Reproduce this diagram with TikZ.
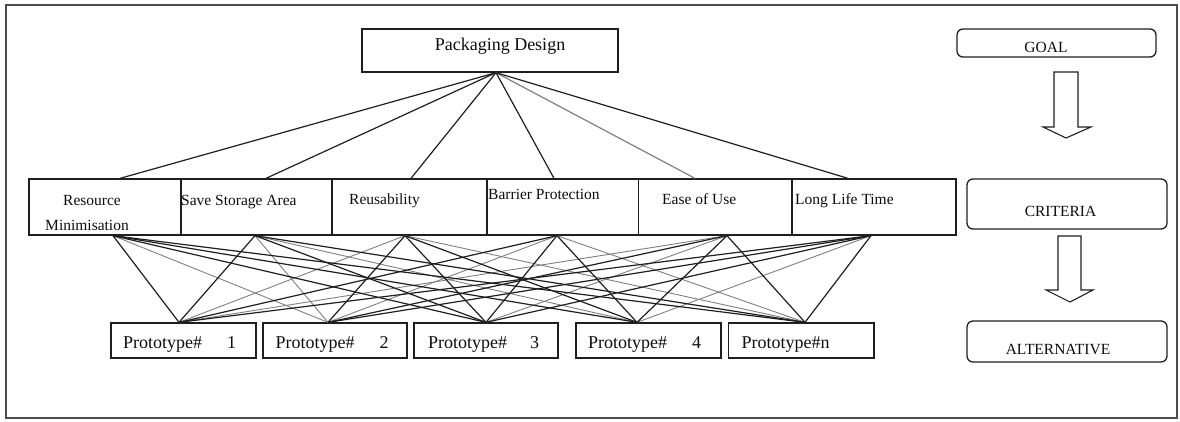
\documentclass[tikz,border=0pt]{standalone}
\usepackage{fontspec}
\setmainfont{Liberation Serif}
\definecolor{ink}{gray}{0.12}
\definecolor{tink}{gray}{0.05}
\definecolor{lite}{gray}{0.5}
\definecolor{framecol}{gray}{0.3}
\begin{document}
\begin{tikzpicture}[x=1pt,y=-1pt,
  box/.style={draw=ink, line width=1.3pt, rectangle, inner sep=0pt},
  rbox/.style={box, rounded corners=6pt},
  txt/.style={inner sep=0pt, text=tink, font=\fontsize{15.5}{17}\selectfont},
  bigtxt/.style={inner sep=0pt, text=tink, font=\fontsize{18}{20}\selectfont},
  conn/.style={line width=1.2pt},
  thin/.style={line width=0.9pt},
  blockarrow/.style={draw=ink, line width=1.1pt, line join=miter}]
\useasboundingbox (0,0) rectangle (1180,421);
\draw[framecol, line width=1.6pt] (6,5) rectangle (1177,418);

% goal
\node[box, minimum width=256pt, minimum height=43pt] (pd) at (490,50.5) {};
\node[bigtxt, anchor=base] (pdt) at (500,50) {Packaging Design};

% criteria cells
\node[box, minimum width=152pt, minimum height=56pt] (c1) at (105,207) {};
\node[box, minimum width=151pt, minimum height=56pt] (c2) at (256.5,207) {};
\node[box, minimum width=155pt, minimum height=56pt] (c3) at (409.5,207) {};
\node[box, minimum width=151.5pt, minimum height=56pt] (c4) at (562.75,207) {};
\node[box, minimum width=153.5pt, minimum height=56pt] (c5) at (715.25,207) {};
\node[box, minimum width=164pt, minimum height=56pt] (c6) at (874,207) {};
\node[txt, anchor=base] (c1a) at (92,205) {Resource};
\node[txt, anchor=base] (c1b) at (87,230) {Minimisation};
\node[txt, anchor=base west] (c2t) at (181,205) {Save Storage Area};
\node[txt, anchor=base west] (c3t) at (349,204) {Reusability};
\node[txt, anchor=base west] (c4t) at (488,199) {Barrier Protection};
\node[txt, anchor=base west] (c5t) at (662,204) {Ease of Use};
\node[txt, anchor=base west] (c6t) at (795,204) {Long Life Time};

% prototypes
\node[box, minimum width=145pt, minimum height=35pt] (p1) at (183.5,340.5) {};
\node[box, minimum width=144pt, minimum height=35pt] (p2) at (335,340.5) {};
\node[box, minimum width=144pt, minimum height=35pt] (p3) at (486,340.5) {};
\node[box, minimum width=145pt, minimum height=35pt] (p4) at (648.5,340.5) {};
\node[box, minimum width=145.5pt, minimum height=35pt] (p5) at (801.25,340.5) {};
\node[bigtxt, anchor=base west] (p1t) at (123,348) {Prototype\#\hspace{25pt}1};
\node[bigtxt, anchor=base west] (p2t) at (275.5,348) {Prototype\#\hspace{25pt}2};
\node[bigtxt, anchor=base west] (p3t) at (428,348) {Prototype\#\hspace{23pt}3};
\node[bigtxt, anchor=base west] (p4t) at (588,348) {Prototype\#\hspace{25pt}4};
\node[bigtxt, anchor=base west] (p5t) at (741.5,348) {Prototype\#n};

% legend boxes
\node[rbox, minimum width=199pt, minimum height=28pt] (goal) at (1056.5,43) {};
\node[txt, anchor=base] (goalt) at (1046,52) {GOAL};
\node[rbox, minimum width=200pt, minimum height=50pt] (crit) at (1067,204) {};
\node[txt, anchor=base] (critt) at (1060.5,216) {CRITERIA};
\node[rbox, minimum width=200pt, minimum height=41pt] (alt) at (1067,341.5) {};
\node[txt, anchor=base] (altt) at (1058,354) {ALTERNATIVE};

% block arrows
\draw[blockarrow] (1054,72) -- (1054,127) -- (1043,127) -- (1066,138) -- (1091,127) -- (1078,127) -- (1078,72) -- cycle;
\draw[blockarrow] (1058,236) -- (1058,290) -- (1046,290) -- (1070,302) -- (1093,290) -- (1081,290) -- (1081,236) -- cycle;

% connection points
\coordinate (apex) at ([xshift=6pt]pd.south);
\foreach \i/\o in {1/15,2/9.5,3/1.5,4/-8.75,5/-20.25,6/-26}
  \coordinate (top\i) at ([xshift=\o pt]c\i.north);
\foreach \i/\o in {1/8,2/-1.5,3/-4.5,4/-5.75,5/11.75,6/-3}
  \coordinate (bot\i) at ([xshift=\o pt]c\i.south);
\foreach \j/\o in {1/-4.5,2/-7,3/0,4/-11.5,5/3.75}
  \coordinate (pin\j) at ([xshift=\o pt]p\j.north);

% goal to criteria
\foreach \i/\c in {1/ink,2/ink,3/ink,4/ink,5/lite,6/ink}
  \draw[conn, draw=\c] (apex) -- (top\i);

% criteria to prototypes
\foreach \i/\j in {1/2,2/2,3/1,4/2,5/1,5/3,6/4,2/4,3/5,4/5}
  \draw[thin, draw=lite] (bot\i) -- (pin\j);
\foreach \i/\j in {1/1,1/3,1/4,1/5,2/1,2/3,2/5,3/2,3/3,3/4,4/1,4/3,4/4,5/2,5/4,5/5,6/1,6/2,6/3,6/5}
  \draw[conn, draw=ink] (bot\i) -- (pin\j);
\end{tikzpicture}
\end{document}
